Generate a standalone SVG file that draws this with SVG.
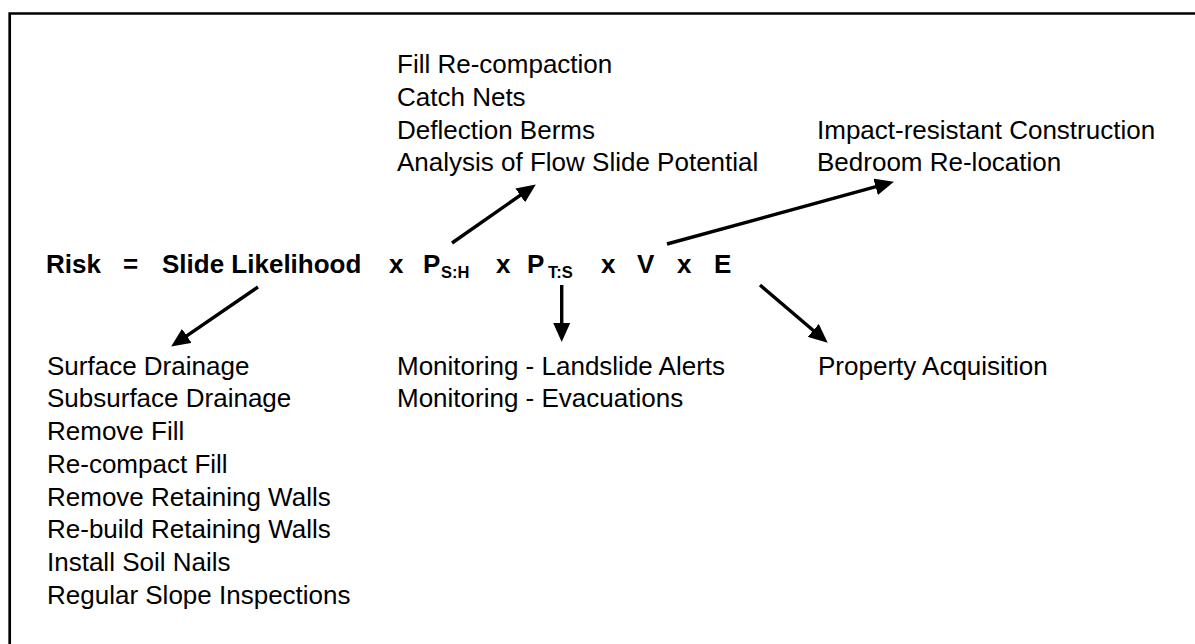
<svg xmlns="http://www.w3.org/2000/svg" width="1195" height="644" viewBox="0 0 1195 644">
<defs>
<style>
.t{font-family:"Liberation Sans",Arial,sans-serif;font-size:26px;fill:#000}
.b{font-family:"Liberation Sans",Arial,sans-serif;font-size:26px;font-weight:bold;fill:#000}
.s{font-family:"Liberation Sans",Arial,sans-serif;font-size:16.5px;font-weight:bold;fill:#000}
.c{stroke:#000;stroke-width:3.4;fill:none;marker-end:url(#ah)}
</style>
<marker id="ah" viewBox="0 0 19 17" refX="9" refY="8.5" markerWidth="19" markerHeight="17" markerUnits="userSpaceOnUse" orient="auto">
<path d="M0,0 L19,8.5 L0,17 Z" fill="#000"/>
</marker>
</defs>
<rect width="1195" height="644" fill="#fff"/>
<path d="M1200,13.5 H9.7 V650" fill="none" stroke="#000" stroke-width="2.7"/>
<g id="formula">
<text class="b" x="46" y="273">Risk</text>
<text class="b" x="123" y="273">=</text>
<text class="b" x="162" y="273">Slide Likelihood</text>
<text class="b" x="389" y="273">x</text>
<text class="b" x="423" y="273">P</text><text class="s" x="441" y="277.5">S:H</text>
<text class="b" x="496" y="273">x</text>
<text class="b" x="527" y="273">P</text><text class="s" x="548" y="277.5">T:S</text>
<text class="b" x="601" y="273">x</text>
<text class="b" x="637" y="273">V</text>
<text class="b" x="677" y="273">x</text>
<text class="b" x="714" y="273">E</text>
</g>
<g id="hazard-measures">
<text class="t" x="397" y="73">Fill Re-compaction</text>
<text class="t" x="397" y="106">Catch Nets</text>
<text class="t" x="397" y="139">Deflection Berms</text>
<text class="t" x="397" y="171">Analysis of Flow Slide Potential</text>
</g>
<g id="vulnerability-measures">
<text class="t" x="817" y="139">Impact-resistant Construction</text>
<text class="t" x="817" y="171">Bedroom Re-location</text>
</g>
<g id="likelihood-measures">
<text class="t" x="47" y="375">Surface Drainage</text>
<text class="t" x="47" y="407">Subsurface Drainage</text>
<text class="t" x="47" y="440">Remove Fill</text>
<text class="t" x="47" y="473">Re-compact Fill</text>
<text class="t" x="47" y="506">Remove Retaining Walls</text>
<text class="t" x="47" y="538">Re-build Retaining Walls</text>
<text class="t" x="47" y="571">Install Soil Nails</text>
<text class="t" x="47" y="604">Regular Slope Inspections</text>
</g>
<g id="temporal-measures">
<text class="t" x="397" y="375">Monitoring - Landslide Alerts</text>
<text class="t" x="397" y="407">Monitoring - Evacuations</text>
</g>
<g id="exposure-measures">
<text class="t" x="818" y="375">Property Acquisition</text>
</g>
<g id="connectors">
<line class="c" x1="258" y1="287" x2="179.4" y2="340.9"/>
<line class="c" x1="452" y1="243" x2="527.6" y2="190.2"/>
<line class="c" x1="667" y1="244" x2="884.3" y2="184.4"/>
<line class="c" x1="561.7" y1="285" x2="561.7" y2="332"/>
<line class="c" x1="760" y1="285" x2="820.1" y2="336.2"/>
</g>
</svg>
